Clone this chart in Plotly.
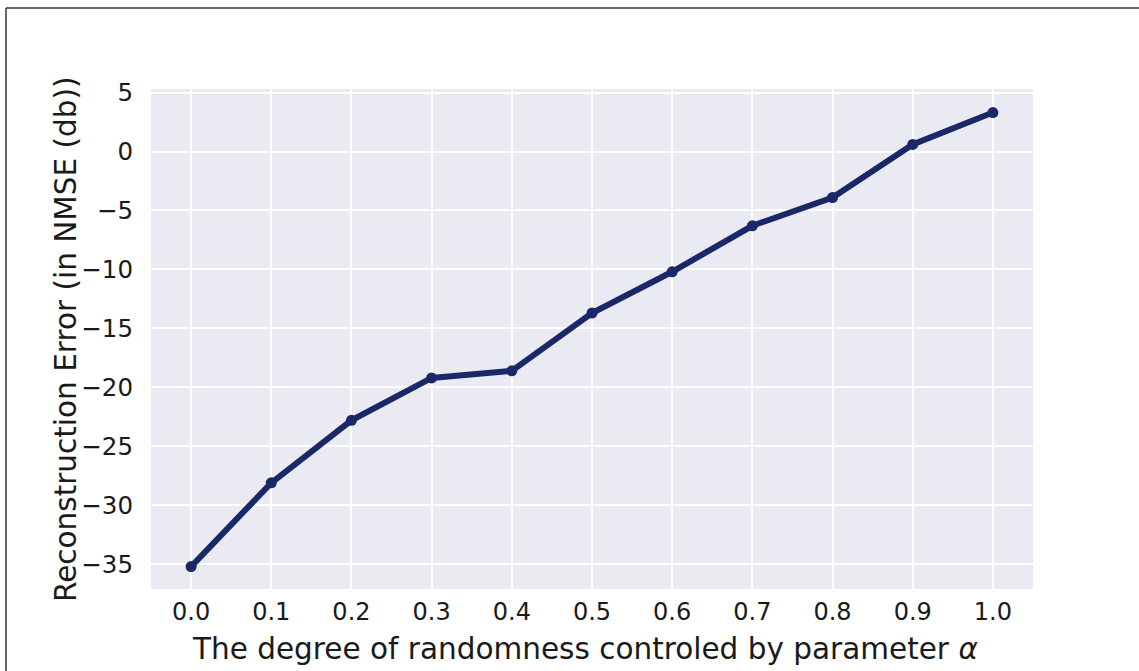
import plotly.graph_objects as go

# Reconstruction error versus the randomness parameter alpha
alpha = [0.0, 0.1, 0.2, 0.3, 0.4, 0.5, 0.6, 0.7, 0.8, 0.9, 1.0]
nmse_db = [-35.2, -28.1, -22.8, -19.2, -18.6, -13.7, -10.2, -6.3, -3.9, 0.6, 3.3]

x_ticks = [0.0, 0.1, 0.2, 0.3, 0.4, 0.5, 0.6, 0.7, 0.8, 0.9, 1.0]
y_ticks = [5, 0, -5, -10, -15, -20, -25, -30, -35]

x_title = "The degree of randomness controled by parameter <i>α</i>"
y_title = "Reconstruction Error (in NMSE (db))"

W, H = 1139, 671
ML, MR, MT, MB = 151, 106, 89, 82
PW, PH = W - ML - MR, H - MT - MB

line_color = "#1a2868"
text_color = "#1a1a1a"
font_family = "DejaVu Sans, Verdana, sans-serif"


def px_to_paper_x(px):
    return (px - ML) / PW


def px_to_paper_y(py):
    return 1 - (py - MT) / PH


fig = go.Figure()
fig.add_trace(go.Scatter(
    x=alpha,
    y=nmse_db,
    mode="lines+markers",
    line=dict(color=line_color, width=6),
    marker=dict(color=line_color, size=11),
    showlegend=False,
))

# thin frame along the left and top edges of the figure
frame = dict(color="#333333", width=1.5)
fig.add_shape(type="line", xref="paper", yref="paper",
              x0=px_to_paper_x(6), x1=px_to_paper_x(6),
              y0=px_to_paper_y(8), y1=px_to_paper_y(H + 2), line=frame)
fig.add_shape(type="line", xref="paper", yref="paper",
              x0=px_to_paper_x(6), x1=px_to_paper_x(W + 2),
              y0=px_to_paper_y(8), y1=px_to_paper_y(8), line=frame)

# axis titles placed as annotations
fig.add_annotation(text=x_title, xref="paper", yref="paper",
                   x=px_to_paper_x(585), y=px_to_paper_y(649),
                   xanchor="center", yanchor="middle", showarrow=False,
                   font=dict(size=29.5, color=text_color, family=font_family))
fig.add_annotation(text=y_title, xref="paper", yref="paper",
                   x=px_to_paper_x(66), y=px_to_paper_y(340), textangle=-90,
                   xanchor="center", yanchor="middle", showarrow=False,
                   font=dict(size=29.5, color=text_color, family=font_family))

fig.update_layout(
    width=W,
    height=H,
    margin=dict(l=ML, r=MR, t=MT, b=MB, pad=0),
    paper_bgcolor="white",
    plot_bgcolor="#eaeaf2",
    font=dict(family=font_family, color=text_color, size=24),
    xaxis=dict(
        range=[-0.05, 1.05],
        tickvals=x_ticks,
        tickformat=".1f",
        showgrid=True,
        gridcolor="white",
        gridwidth=2,
        zeroline=False,
        showline=False,
        ticks="",
        ticklabelstandoff=6,
        tickfont=dict(size=24),
    ),
    yaxis=dict(
        range=[-37.1, 5.3],
        tickvals=y_ticks,
        showgrid=True,
        gridcolor="white",
        gridwidth=2,
        zeroline=False,
        showline=False,
        ticks="",
        ticklabelstandoff=17,
        tickfont=dict(size=24.5),
    ),
)

fig.write_html("out.html")
